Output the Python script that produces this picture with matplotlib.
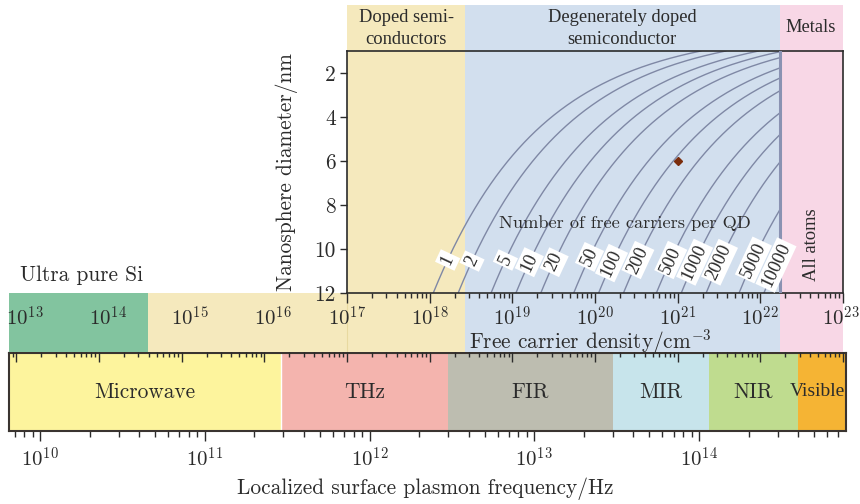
import numpy as np
import matplotlib
matplotlib.use("Agg")
import matplotlib.pyplot as plt
from matplotlib.ticker import LogLocator, NullFormatter, FixedLocator
import matplotlib.transforms as mtransforms

plt.rcParams["mathtext.fontset"] = "cm"
plt.rcParams["font.family"] = ["cmr10", "DejaVu Serif"]
plt.rcParams["axes.formatter.use_mathtext"] = True
plt.rcParams["axes.unicode_minus"] = False

# ---- data -------------------------------------------------------------
# free carrier density regimes (cm^-3)
density_min = 10 ** 12.911
ultra_pure_max = 3.9e14
doped_start = 1e17
degenerate_start = 2.67e18
all_atoms = 1.73e22
density_max = 1e23
low_decades = [13, 14, 15, 16]
main_decades = [17, 18, 19, 20, 21, 22, 23]

# iso-lines: number of free carriers per quantum dot
carriers_per_qd = [1, 2, 5, 10, 20, 50, 100, 200, 500, 1000, 2000, 5000, 10000]
label_diameter = [10.5, 10.55, 10.5, 10.6, 10.6, 10.36, 10.64, 10.5, 10.5,
                  10.6, 10.6, 10.5, 10.73]
diameter_ticks = [2, 4, 6, 8, 10, 12]

# highlighted sample
sample_density = 1e21
sample_diameter = 6.0

# plasmon frequency bands (Hz)
freq_bands = ["Microwave", "THz", "FIR", "MIR", "NIR", "Visible"]
freq_edges = [10 ** 9.8116, 2.9e11, 3.0e12, 3.0e13, 1.15e14, 4.0e14, 10 ** 14.892]
freq_colors = ["#fdf49d", "#f4b4ae", "#bdbdb0", "#c7e4eb", "#bfdc8f", "#f5b434"]
freq_decades = [10, 11, 12, 13, 14]

# ---- style ------------------------------------------------------------
c_green = "#82c49f"
c_beige = "#f5e9bd"
c_blue = "#d2dfee"
c_pink = "#f8d7e6"
c_curve = "#7f88a5"
c_text = "#2b2b2b"
c_spine = "#2b2b2b"
times = ["Liberation Serif", "DejaVu Serif"]
fs = 15.4
fs_tick = 15.0

W, H = 860, 504
fig = plt.figure(figsize=(W / 100, H / 100), dpi=100)


def px_axes(left, top, right, bottom, **kw):
    return fig.add_axes([left / W, 1 - bottom / H, (right - left) / W,
                         (bottom - top) / H], **kw)


ax_freq = px_axes(9, 353, 846, 431, zorder=0)
ax_bg = px_axes(9, 5, 843, 352, zorder=1)
ax = px_axes(347, 51, 843, 293, zorder=2)

# ---- background regimes (density scale) -------------------------------
ax_bg.set_xscale("log")
ax_bg.set_xlim(density_min, density_max)
ax_bg.set_ylim(0, 1)
ax_bg.patch.set_visible(False)
for s in ax_bg.spines.values():
    s.set_visible(False)
band_top = (352 - 293) / 347
ax_bg.axvspan(density_min, ultra_pure_max, 0, band_top, color=c_green, lw=0)
ax_bg.axvspan(ultra_pure_max, doped_start, 0, band_top, color=c_beige, lw=0)
ax_bg.axvspan(doped_start, degenerate_start, 0, 1, color=c_beige, lw=0)
ax_bg.axvspan(degenerate_start, all_atoms, 0, 1, color=c_blue, lw=0)
ax_bg.axvspan(all_atoms, density_max, 0, 1, color=c_pink, lw=0)
ax_bg.axvline(doped_start, 0, band_top, color="#e8d9a0", lw=0.8)

all_decades = low_decades + main_decades
ax_bg.xaxis.set_major_locator(FixedLocator([10.0 ** d for d in all_decades]))
ax_bg.set_xticklabels([rf"$10^{{{d}}}$" if d in low_decades else ""
                       for d in all_decades])
ax_bg.xaxis.set_minor_locator(LogLocator(base=10, subs=np.arange(2, 10), numticks=30))
ax_bg.xaxis.set_minor_formatter(NullFormatter())
ax_bg.tick_params(axis="x", which="major", direction="out", length=7, width=1,
                  color=c_spine, labelsize=fs_tick, labelcolor=c_text, pad=-40.5)
ax_bg.tick_params(axis="x", which="minor", direction="out", length=3.6, width=1,
                  color=c_spine)
ax_bg.tick_params(axis="y", left=False, labelleft=False)
shift = mtransforms.ScaledTranslation(8.5 / 100, 0, fig.dpi_scale_trans)
for tick in ax_bg.xaxis.get_major_ticks()[:len(low_decades)]:
    tick.label1.set_transform(tick.label1.get_transform() + shift)

ax_bg.text(10 ** 13.794, (352 - 275) / 347, "Ultra pure Si", fontsize=fs,
           color=c_text, ha="center", va="center")

# ---- main panel: diameter vs density ----------------------------------
ax.set_xscale("log")
ax.set_xlim(1e17, density_max)
ax.set_ylim(12, 1)
ax.patch.set_visible(False)
for s in ax.spines.values():
    s.set_color(c_spine)
    s.set_linewidth(1.2)

for N, dl in zip(carriers_per_qd, label_diameter):
    d_lo = max(1.0, (6 * N / (np.pi * all_atoms * 1e-21)) ** (1 / 3))
    d = np.linspace(d_lo, 12.0, 300)
    n = 6 * N / (np.pi * d ** 3 * 1e-21)
    ax.plot(n, d, color=c_curve, lw=1.0, zorder=2)
    nl = 6 * N / (np.pi * dl ** 3 * 1e-21)
    ax.text(nl, dl, str(N), rotation=65, fontsize=13.3, family=times,
            color=c_text, ha="center", va="center", zorder=4,
            bbox=dict(boxstyle="square,pad=0.12", fc="white", ec="none"))

ax.axvline(all_atoms, color="#8a92b2", lw=2.2, zorder=3)
ax.plot([sample_density], [sample_diameter], marker="D", ms=4.5,
        color="#7b2d0c", zorder=5)

ax.set_yticks(diameter_ticks)
ax.set_yticklabels([str(v) for v in diameter_ticks])
ax.tick_params(axis="y", direction="out", length=5, width=1, color=c_spine,
               labelsize=fs, labelcolor=c_text, pad=3)
ax.xaxis.set_major_locator(FixedLocator([10.0 ** d for d in main_decades]))
ax.set_xticklabels([rf"$10^{{{d}}}$" for d in main_decades])
ax.xaxis.set_minor_locator(LogLocator(base=10, subs=np.arange(2, 10), numticks=30))
ax.xaxis.set_minor_formatter(NullFormatter())
ax.tick_params(axis="x", which="major", direction="out", length=7, width=1,
               color=c_spine, labelsize=fs_tick, labelcolor=c_text, pad=2.0)
ax.tick_params(axis="x", which="minor", direction="out", length=3.6, width=1,
               color=c_spine)
ax.get_xticklabels()[-1].set_transform(
    ax.get_xticklabels()[-1].get_transform()
    + mtransforms.ScaledTranslation(-2 / 100, 0, fig.dpi_scale_trans))

ax.set_ylabel("Nanosphere diameter/nm", fontsize=fs, color=c_text)
ax.yaxis.set_label_coords((298 - 347) / 496, 0.5)
ax.set_xlabel("Free carrier density/cm$^{-3}$", fontsize=fs, color=c_text)
ax.xaxis.set_label_coords((590 - 347) / 496, (293 - 327.5) / 242)

ax.text(10 ** 20.363, 8.82, "Number of free carriers per QD", fontsize=13.2,
        color=c_text, ha="center", va="center", zorder=4)
ax.text(10 ** 22.625, 9.82, "All atoms", rotation=90, fontsize=13.3,
        family=times, color=c_text, ha="center", va="center")

top = mtransforms.blended_transform_factory(ax.transData, ax.transAxes)
ax.text(10 ** 17.714, 1 + 22.5 / 242, "Doped semi-\nconductors", transform=top,
        fontsize=13.3, family=times, color=c_text, ha="center", va="center",
        linespacing=1.4, clip_on=False)
ax.text(10 ** 20.327, 1 + 22.5 / 242, "Degenerately doped\nsemiconductor",
        transform=top, fontsize=13.3, family=times, color=c_text, ha="center",
        va="center", linespacing=1.4, clip_on=False)
ax.text(10 ** 22.61, 1 + 23 / 242, "Metals", transform=top, fontsize=13.3,
        family=times, color=c_text, ha="center", va="center", clip_on=False)

# ---- frequency strip --------------------------------------------------
ax_freq.set_xscale("log")
ax_freq.set_xlim(freq_edges[0], freq_edges[-1])
ax_freq.set_ylim(0, 1)
ax_freq.patch.set_visible(False)
for i, name in enumerate(freq_bands):
    lo, hi = freq_edges[i], freq_edges[i + 1]
    ax_freq.axvspan(lo, hi, color=freq_colors[i], lw=0)
    if name == "Visible":
        ax_freq.text(hi * 0.985, 0.5, name, fontsize=14, family=times,
                     color=c_text, ha="right", va="center")
    else:
        ax_freq.text(np.sqrt(lo * hi), 0.5, name, fontsize=fs, color=c_text,
                     ha="center", va="center")
ax_freq.axvline(freq_edges[1], color="white", lw=1.0)
for s in ax_freq.spines.values():
    s.set_color("#3a3430")
    s.set_linewidth(1.5)
ax_freq.xaxis.set_major_locator(FixedLocator([10.0 ** d for d in freq_decades]))
ax_freq.set_xticklabels([rf"$10^{{{d}}}$" for d in freq_decades])
ax_freq.xaxis.set_minor_locator(LogLocator(base=10, subs=np.arange(2, 10), numticks=30))
ax_freq.xaxis.set_minor_formatter(NullFormatter())
ax_freq.tick_params(axis="x", which="major", direction="out", length=7.5, width=1,
                    color=c_spine, labelsize=fs_tick, labelcolor=c_text, pad=4)
ax_freq.tick_params(axis="x", which="minor", direction="out", length=4.5, width=1,
                    color=c_spine)
ax_freq.tick_params(axis="y", left=False, labelleft=False)
ax_freq.set_xlabel("Localized surface plasmon frequency/Hz", fontsize=fs,
                   color=c_text)
ax_freq.xaxis.set_label_coords((425 - 9) / 837, (431 - 477) / 78)

fig.savefig("out.png", dpi=100)
